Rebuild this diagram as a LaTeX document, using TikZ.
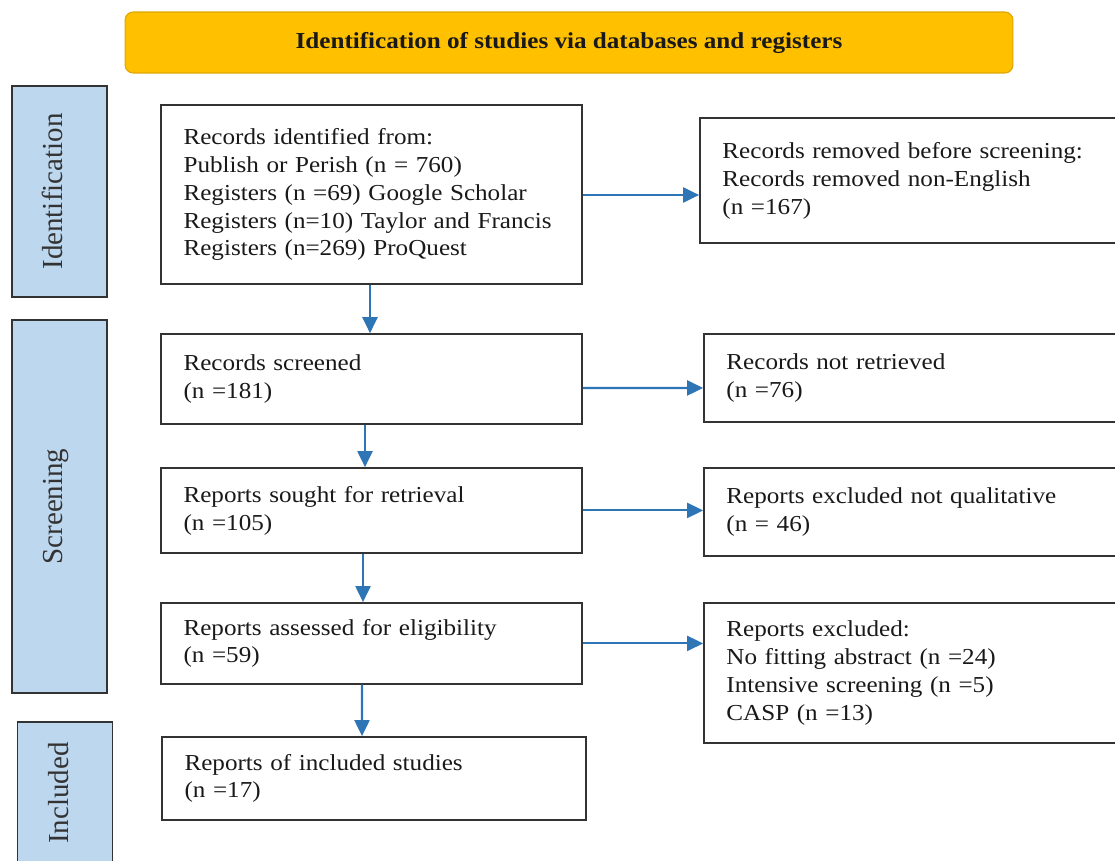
\documentclass[tikz,border=0pt]{standalone}
\usepackage{fontspec}
\setmainfont{Liberation Serif}[FakeStretch=1.1]
\newfontfamily\phasefont{Liberation Serif}
\usetikzlibrary{positioning,arrows.meta,calc}
\definecolor{bannergold}{RGB}{255,192,0}
\definecolor{bannerrim}{RGB}{222,166,0}
\definecolor{phaseblue}{RGB}{189,215,238}
\definecolor{flowblue}{RGB}{46,117,182}

\begin{document}
\begin{tikzpicture}[x=0.02cm, y=-0.02cm, node distance=3cm,
banner/.style ={rectangle, rounded corners=0.16cm, fill=bannergold, draw=bannerrim, line width=0.6pt, minimum width=17.76cm, minimum height=1.22cm, font=\fontsize{13}{15}\selectfont\bfseries, text=black!90},
phase/.style ={rectangle, rotate=90, fill=phaseblue, draw=black!80, line width=0.9pt, minimum height=1.9cm, text height=0.4cm, text depth=0.28cm, font=\phasefont\fontsize{16.5}{18}\selectfont, text=black!80},
activity/.style ={rectangle, draw=black!80, line width=0.9pt, fill=white, text width=7.52cm, inner xsep=0.45cm, align=left, font=\fontsize{13}{15.9}\selectfont, text=black!90},
excluded/.style ={activity},
flow/.style ={-{Triangle[length=0.32cm, width=0.3cm]}, draw=flowblue, fill=flowblue, line width=1.2pt},
]
\useasboundingbox (0,0) rectangle (1115,861);

\node (TITLE) [banner] at (569,42.5) {Identification of studies via databases and registers};

% phases on the left
\node (PHID) [phase, minimum width=4.22cm] at (59.5,191.5) {Identification};
\node (PHSC) [phase, minimum width=7.46cm] at (59.5,506.5) {Screening};
\node (PHIN) [phase, minimum width=2.84cm] at (65,793) {Included};

% main column
\node (IDENT) [activity, minimum height=3.58cm] at (371.5,194.5) {Records identified from:\\ Publish or Perish (n = 760)\\ Registers (n =69) Google Scholar\\ Registers (n=10) Taylor and Francis\\ Registers (n=269) ProQuest};
\node (SCREEN) [activity, below of=IDENT, node distance=3.69cm, minimum height=1.8cm] {Records screened\\ (n =181)};
\node (SOUGHT) [activity, below of=SCREEN, node distance=2.63cm, minimum height=1.7cm] {Reports sought for retrieval\\ (n =105)};
\node (ASSESS) [activity, below of=SOUGHT, node distance=2.66cm, minimum height=1.62cm] {Reports assessed for eligibility\\ (n =59)};
\node (INCL) [activity, below of=ASSESS, node distance=2.7cm, xshift=0.05cm, text width=7.58cm, minimum height=1.66cm] {Reports of included studies\\ (n =17)};

% exclusions on the right
\node (REMOVED) [excluded, right of=IDENT, node distance=10.78cm, yshift=0.28cm, minimum height=2.5cm] {Records removed before screening:\\ Records removed non-English\\ (n =167)};
\node (NOTRETR) [excluded, right of=SCREEN, node distance=10.86cm, yshift=0.02cm, minimum height=1.76cm] {Records not retrieved\\ (n =76)};
\node (NOTQUAL) [excluded, right of=SOUGHT, node distance=10.86cm, yshift=-0.03cm, minimum height=1.76cm] {Reports excluded not qualitative\\ (n = 46)};
\node (EXCL) [excluded, right of=ASSESS, node distance=10.86cm, yshift=-0.59cm, minimum height=2.8cm] {Reports excluded:\\ No fitting abstract (n =24)\\ Intensive screening (n =5)\\ CASP (n =13)};

\draw[flow] ([xshift=-0.03cm]IDENT.south) -- ([xshift=-0.03cm]SCREEN.north);
\draw[flow] ([xshift=-0.13cm]SCREEN.south) -- ([xshift=-0.13cm]SOUGHT.north);
\draw[flow] ([xshift=-0.17cm]SOUGHT.south) -- ([xshift=-0.17cm]ASSESS.north);
\draw[flow] ([xshift=-0.19cm]ASSESS.south) -- ([xshift=-0.24cm]INCL.north);

\draw[flow] ([yshift=-0.01cm]IDENT.east) -- ([yshift=-0.29cm]REMOVED.west);
\draw[flow] ([yshift=-0.18cm]SCREEN.east) -- ([yshift=-0.2cm]NOTRETR.west);
\draw[flow] (SOUGHT.east) -- (SOUGHT.east -| NOTQUAL.west);
\draw[flow] (ASSESS.east) -- (ASSESS.east -| EXCL.west);

\end{tikzpicture}
\end{document}
